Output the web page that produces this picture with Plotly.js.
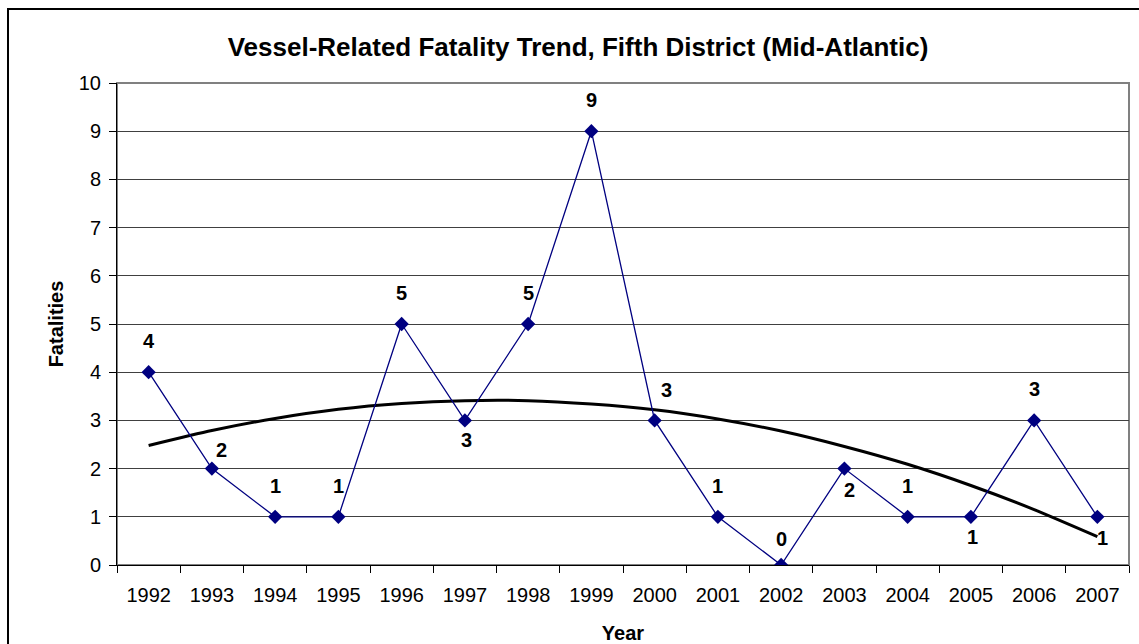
<!DOCTYPE html>
<html>
<head>
<meta charset="utf-8">
<script src="https://cdn.plot.ly/plotly-3.0.1.min.js"></script>
<style>
  html, body { margin: 0; padding: 0; background: #fff; }
  #chart { width: 1139px; height: 644px; }
</style>
</head>
<body>
<div id="chart"></div>
<script>
// values
const years = ['1992', '1993', '1994', '1995', '1996', '1997', '1998', '1999',
               '2000', '2001', '2002', '2003', '2004', '2005', '2006', '2007'];
const fatalities = [4, 2, 1, 1, 5, 3, 5, 9, 3, 1, 0, 2, 1, 1, 3, 1];
// Excel polynomial trend line, value at each year
const trend = [2.48, 2.79, 3.04, 3.23, 3.35, 3.41, 3.41, 3.34,
               3.22, 3.03, 2.78, 2.46, 2.09, 1.65, 1.15, 0.59];
// where each data label sits relative to its point
const labelPlace = ['up', 'nearRight', 'up', 'up', 'up', 'down', 'up', 'up',
                    'upRight', 'up', 'low', 'downRight', 'up', 'down', 'up', 'downRight'];

const font = "Arial, 'Liberation Sans', sans-serif";
const shifts = {
  up: [0, 31],
  low: [0, 26],
  down: [2, -20],
  nearRight: [10, 19],
  upRight: [12, 30],
  downRight: [5, -21]
};

const trendLine = {
  type: 'scatter',
  mode: 'lines',
  x: years,
  y: trend,
  line: { color: '#000000', width: 3, shape: 'spline', smoothing: 0.6 },
  hoverinfo: 'skip',
  showlegend: false
};

const fatalLine = {
  type: 'scatter',
  mode: 'lines+markers',
  x: years,
  y: fatalities,
  line: { color: '#000080', width: 1.3 },
  marker: { symbol: 'diamond', size: 11, color: '#000080' },
  showlegend: false
};

const labels = [];
for (let i = 0; i < years.length; i++) {
  const s = shifts[labelPlace[i]];
  labels.push({
    x: i,
    y: fatalities[i],
    xref: 'x',
    yref: 'y',
    text: '<b>' + fatalities[i] + '</b>',
    showarrow: false,
    xanchor: 'center',
    yanchor: 'middle',
    xshift: s[0],
    yshift: s[1],
    font: { family: font, size: 20, color: '#000000' }
  });
}

const layout = {
  width: 1139,
  height: 644,
  margin: { l: 117, r: 10, t: 83, b: 79 },
  paper_bgcolor: '#ffffff',
  plot_bgcolor: '#ffffff',
  font: { family: font, size: 20, color: '#000' },
  title: {
    text: '<b>Vessel-Related Fatality Trend, Fifth District (Mid-Atlantic)</b>',
    font: { family: font, size: 26, color: '#000' },
    x: 0.5075,
    xanchor: 'center',
    xref: 'container',
    y: 0.927,
    yref: 'container',
    yanchor: 'middle'
  },
  xaxis: {
    type: 'category',
    range: [-0.5, 15.5],
    tickson: 'boundaries',
    ticks: 'outside',
    ticklen: 7,
    tickcolor: '#000',
    ticklabelstandoff: 12,
    showgrid: false,
    showline: true,
    linecolor: '#000',
    linewidth: 1,
    zeroline: false,
    tickfont: { family: font, size: 20 },
    title: {
      text: '<b>Year</b>',
      font: { family: font, size: 20 },
      standoff: 20
    }
  },
  yaxis: {
    range: [0, 10],
    dtick: 1,
    ticks: 'outside',
    ticklen: 7,
    tickcolor: '#000',
    ticklabelstandoff: 4,
    showgrid: true,
    gridcolor: '#404040',
    gridwidth: 1,
    showline: true,
    linecolor: '#000',
    linewidth: 1,
    zeroline: false,
    tickfont: { family: font, size: 20 },
    title: {
      text: '<b>Fatalities</b>',
      font: { family: font, size: 20 },
      standoff: 9
    }
  },
  shapes: [
    // plot area border
    {
      type: 'rect', xref: 'paper', yref: 'paper',
      x0: 0, x1: 1, y0: 0, y1: 1,
      line: { color: '#808080', width: 2 },
      layer: 'below'
    },
    // outer chart frame
    {
      type: 'rect', xref: 'paper', yref: 'paper',
      x0: -0.1077, x1: 1.05, y0: -0.3, y1: 1.1535,
      line: { color: '#000', width: 2 }
    }
  ],
  annotations: labels
};

Plotly.newPlot('chart', [trendLine, fatalLine], layout, { displayModeBar: false });
</script>
</body>
</html>
